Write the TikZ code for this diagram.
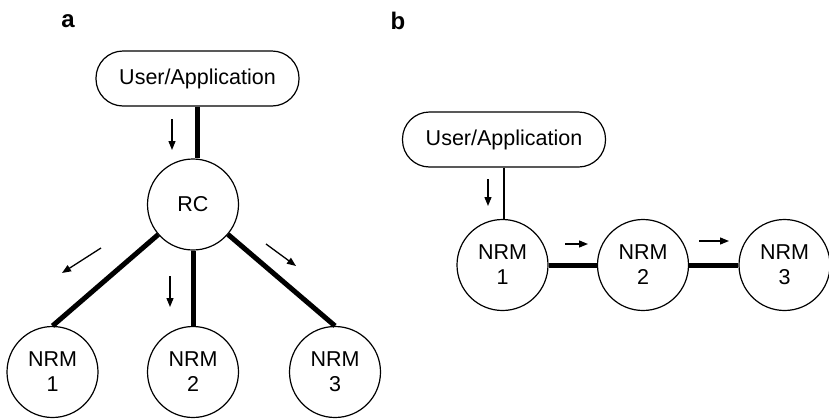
\documentclass[tikz,border=0pt]{standalone}
\usepackage{fontspec}
\setmainfont{Liberation Sans}
\usetikzlibrary{arrows.meta}
\begin{document}
\begin{tikzpicture}[x=1pt,y=-1pt,
  txt/.style={font=\fontsize{21.5}{25}\selectfont},
  pill/.style={txt,draw,line width=1.2pt,rectangle,rounded corners=27pt,
    minimum width=203pt,minimum height=55pt,inner sep=0pt},
  unit/.style={txt,draw,line width=1.2pt,circle,minimum size=91pt,
    inner sep=0pt,align=center},
  heavy/.style={line width=5pt},
  light/.style={line width=2pt},
  flow/.style={line width=1.3pt,-{Triangle[length=9pt,width=7pt]}},
  panel/.style={font=\fontsize{24}{28}\selectfont\bfseries}]
\useasboundingbox (0,0) rectangle (829,418);

% panel a: central RC with three NRMs
\node[panel] (la) at (68,21) {a};
\node[pill] (uaA) at (197.5,78.5) {User/Application};
\node[unit] (rc) at (193,204.5) {RC};
\node[unit] (a1) at (52.5,372) {NRM\\1};
\node[unit] (a2) at (193,372) {NRM\\2};
\node[unit] (a3) at (335,372) {NRM\\3};
\draw[heavy] (uaA.south) -- (uaA.south |- rc.north);
\draw[heavy] (rc) -- (a1.north);
\draw[heavy] (rc) -- (a2.north);
\draw[heavy] (rc) -- (a3.north);

\coordinate (fa0s) at (172,119); \coordinate (fa0e) at (172,150);
\coordinate (fa1s) at (101,248); \coordinate (fa1e) at (62,273);
\coordinate (fa2s) at (170,276); \coordinate (fa2e) at (170,307);
\coordinate (fa3s) at (266,244); \coordinate (fa3e) at (296,266);
\draw[flow] (fa0s) -- (fa0e);
\draw[flow] (fa1s) -- (fa1e);
\draw[flow] (fa2s) -- (fa2e);
\draw[flow] (fa3s) -- (fa3e);

% panel b: chain of NRMs
\node[panel] (lb) at (398,21) {b};
\node[pill] (uaB) at (504,139.5) {User/Application};
\node[unit] (b1) at (502.5,265) {NRM\\1};
\node[unit] (b2) at (643,265) {NRM\\2};
\node[unit] (b3) at (784.5,265) {NRM\\3};
\draw[light] (uaB.south) -- (uaB.south |- b1.north);
\draw[heavy] (b1) -- (b2);
\draw[heavy] (b2) -- (b3);

\coordinate (fb0s) at (488,179); \coordinate (fb0e) at (488,206);
\coordinate (fb1s) at (565,244); \coordinate (fb1e) at (588,244);
\coordinate (fb2s) at (699,241); \coordinate (fb2e) at (729,241);
\draw[flow] (fb0s) -- (fb0e);
\draw[flow] (fb1s) -- (fb1e);
\draw[flow] (fb2s) -- (fb2e);
\end{tikzpicture}
\end{document}
